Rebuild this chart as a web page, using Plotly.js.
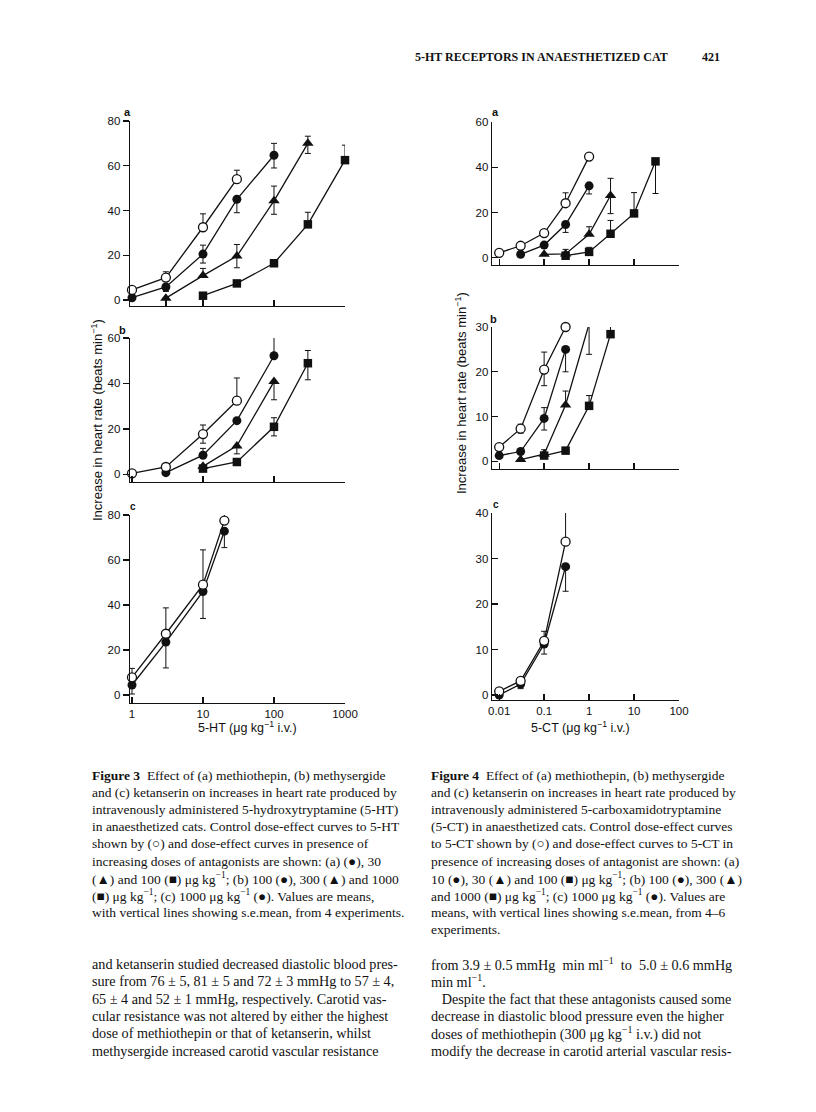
<!DOCTYPE html>
<html>
<head>
<meta charset="utf-8">
<script src="https://cdn.plot.ly/plotly-3.0.1.min.js"></script>
<style>
  body { margin: 0; background: #fff; }
  #page { width: 816px; height: 1112px; }
</style>
</head>
<body>
<div id="page"></div>
<script>
// Figure 3 (5-HT, ug/kg). a: methiothepin
var f3aOpenX = [1, 3, 10, 30];
var f3aOpenY = [4.5, 10, 32.5, 54];
var f3aOpenUp = [0, 2.6, 6, 4];
var f3aOpenDn = [0, 0, 0, 0];
var f3aDotX = [1, 3, 10, 30, 100];
var f3aDotY = [1, 5.8, 20.5, 45, 64.7];
var f3aDotUp = [0, 0, 4, 0, 5.3];
var f3aDotDn = [0, 2, 4, 6, 5.7];
var f3aTriX = [3, 10, 30, 100, 300];
var f3aTriY = [0.8, 10.9, 19.6, 44.3, 70];
var f3aTriUp = [0, 3.2, 5.2, 6.6, 3.2];
var f3aTriDn = [0, 0, 5.2, 6, 4.5];
var f3aSqX = [10, 30, 100, 300, 1000];
var f3aSqY = [1.9, 7.4, 16.4, 33.8, 62.5];
var f3aSqUp = [0, 0, 0, 5.4, 6.7];
var f3aSqDn = [0, 0, 0, 0, 0];

// b: methysergide
var f3bOpenX = [1, 3, 10, 30];
var f3bOpenY = [0.4, 3.2, 17.7, 32.4];
var f3bOpenUp = [0, 0, 4, 10];
var f3bOpenDn = [0, 0, 4, 0];
var f3bDotX = [3, 10, 30, 100];
var f3bDotY = [0.7, 8.4, 23.6, 52.2];
var f3bDotUp = [0, 3, 0, 10];
var f3bDotDn = [0, 0, 0, 0];
var f3bTriX = [10, 30, 100];
var f3bTriY = [3.5, 12.5, 40.8];
var f3bTriUp = [0, 0, 0];
var f3bTriDn = [0, 3.5, 8];
var f3bSqX = [10, 30, 100, 300];
var f3bSqY = [2.5, 5.4, 20.9, 48.9];
var f3bSqUp = [0, 0, 4, 5.6];
var f3bSqDn = [0, 0, 4, 7.3];

// c: ketanserin
var f3cOpenX = [1, 3, 10, 20];
var f3cOpenY = [7.8, 27.2, 49, 77.5];
var f3cOpenUp = [4, 11.5, 15.5, 7];
var f3cOpenDn = [0, 0, 0, 0];
var f3cDotX = [1, 3, 10, 20];
var f3cDotY = [4.4, 23.5, 46, 72.8];
var f3cDotUp = [0, 0, 0, 0];
var f3cDotDn = [4, 11.5, 12, 7.3];

// Figure 4 (5-CT, ug/kg). a: methiothepin
var f4aOpenX = [0.01, 0.03, 0.1, 0.3, 1];
var f4aOpenY = [2.2, 5.3, 10.9, 24.1, 44.7];
var f4aOpenUp = [1.5, 0, 1.6, 4.6, 1];
var f4aOpenDn = [1.5, 0, 0, 0, 1];
var f4aDotX = [0.03, 0.1, 0.3, 1];
var f4aDotY = [1.5, 5.6, 14.7, 31.8];
var f4aDotUp = [0, 0, 0, 0];
var f4aDotDn = [0, 0, 3.5, 3.6];
var f4aTriX = [0.1, 0.3, 1, 3];
var f4aTriY = [1.5, 1.7, 10.4, 27.5];
var f4aTriUp = [0, 2, 3.3, 7.6];
var f4aTriDn = [0, 0, 0, 8];
var f4aSqX = [0.3, 1, 3, 10, 30];
var f4aSqY = [0.9, 2.6, 10.6, 19.6, 42.6];
var f4aSqUp = [0, 2, 5.9, 9.2, 0];
var f4aSqDn = [0, 0, 0, 0, 14.2];

// b: methysergide
var f4bOpenX = [0.01, 0.03, 0.1, 0.3];
var f4bOpenY = [3.2, 7.3, 20.5, 30];
var f4bOpenUp = [0, 1, 3.9, 4.3];
var f4bOpenDn = [0, 1, 3.6, 0];
var f4bDotX = [0.01, 0.03, 0.1, 0.3];
var f4bDotY = [1.3, 2.2, 9.6, 25];
var f4bDotUp = [0, 0, 2.4, 0];
var f4bDotDn = [0, 0, 2.6, 5];
var f4bTriX = [0.03, 0.1, 0.3, 1];
var f4bTriY = [0.4, 1.6, 12.6, 30.7];
var f4bTriUp = [0, 1, 3.1, 0];
var f4bTriDn = [0, 0, 0, 6.8];
var f4bSqX = [0.1, 0.3, 1, 3];
var f4bSqY = [1.3, 2.4, 12.4, 28.4];
var f4bSqUp = [0, 0, 2.3, 4.6];
var f4bSqDn = [0, 0, 0, 0];

// c: ketanserin
var f4cOpenX = [0.01, 0.03, 0.1, 0.3];
var f4cOpenY = [0.8, 3.1, 11.9, 33.7];
var f4cOpenUp = [0, 0, 2.1, 8];
var f4cOpenDn = [0, 0, 0, 0];
var f4cDotX = [0.01, 0.03, 0.1, 0.3];
var f4cDotY = [0, 2.4, 11.2, 28.2];
var f4cDotUp = [0, 1, 0, 0];
var f4cDotDn = [0, 1, 2.2, 5.4];

// tick labels
var f3Ticks = [1, 10, 100, 1000];
var f3TickText = ['1', '10', '100', '1000'];
var f4Ticks = [0.01, 0.1, 1, 10, 100];
var f4TickText = ['0.01', '0.1', '1', '10', '100'];

// page text
var header = '5-HT RECEPTORS IN ANAESTHETIZED CAT';
var pageNo = '421';
var cap3 = [
  '<b>Figure 3</b>  Effect of (a) methiothepin, (b) methysergide',
  'and (c) ketanserin on increases in heart rate produced by',
  'intravenously administered 5-hydroxytryptamine (5-HT)',
  'in anaesthetized cats. Control dose-effect curves to 5-HT',
  'shown by (○) and dose-effect curves in presence of',
  'increasing doses of antagonists are shown: (a) (●), 30',
  '(▲) and 100 (■) μg kg<sup>−1</sup>; (b) 100 (●), 300 (▲) and 1000',
  '(■) μg kg<sup>−1</sup>; (c) 1000 μg kg<sup>−1</sup> (●). Values are means,',
  'with vertical lines showing s.e.mean, from 4 experiments.'
];
var cap4 = [
  '<b>Figure 4</b>  Effect of (a) methiothepin, (b) methysergide',
  'and (c) ketanserin on increases in heart rate produced by',
  'intravenously administered 5-carboxamidotryptamine',
  '(5-CT) in anaesthetized cats. Control dose-effect curves',
  'to 5-CT shown by (○) and dose-effect curves to 5-CT in',
  'presence of increasing doses of antagonist are shown: (a)',
  '10 (●), 30 (▲) and 100 (■) μg kg<sup>−1</sup>; (b) 100 (●), 300 (▲)',
  'and 1000 (■) μg kg<sup>−1</sup>; (c) 1000 μg kg<sup>−1</sup> (●). Values are',
  'means, with vertical lines showing s.e.mean, from 4–6',
  'experiments.'
];
var bodyLeft = [
  'and ketanserin studied decreased diastolic blood pres-',
  'sure from 76 ± 5, 81 ± 5 and 72 ± 3 mmHg to 57 ± 4,',
  '65 ± 4 and 52 ± 1 mmHg, respectively. Carotid vas-',
  'cular resistance was not altered by either the highest',
  'dose of methiothepin or that of ketanserin, whilst',
  'methysergide increased carotid vascular resistance'
];
var bodyRight = [
  'from 3.9 ± 0.5 mmHg  min ml<sup>−1</sup>  to  5.0 ± 0.6 mmHg',
  'min ml<sup>−1</sup>.',
  '   Despite the fact that these antagonists caused some',
  'decrease in diastolic blood pressure even the higher',
  'doses of methiothepin (300 μg kg<sup>−1</sup> i.v.) did not',
  'modify the decrease in carotid arterial vascular resis-'
];

var W = 816, H = 1112;
var INK = '#111';
function px(x) { return x / W; }
function py(y) { return 1 - y / H; }

var markers = {
  open: {symbol: 'circle', size: 9, color: '#fff', line: {color: INK, width: 1.3}},
  dot: {symbol: 'circle', size: 9, color: INK, line: {color: INK, width: 0}},
  tri: {symbol: 'triangle-up', size: 10, color: INK, line: {color: INK, width: 0}},
  sq: {symbol: 'square', size: 8.5, color: INK, line: {color: INK, width: 0}}
};

function series(ax, kind, x, y, up, dn) {
  return {
    x: x, y: y, xaxis: 'x' + ax, yaxis: 'y' + ax,
    type: 'scatter', mode: 'lines+markers', cliponaxis: false,
    line: {color: INK, width: 1.3},
    marker: markers[kind],
    error_y: {type: 'data', symmetric: false, array: up, arrayminus: dn,
              color: INK, thickness: 1, width: 3},
    showlegend: false, hoverinfo: 'skip'
  };
}

var data = [
  series('', 'sq', f3aSqX, f3aSqY, f3aSqUp, f3aSqDn),
  series('', 'tri', f3aTriX, f3aTriY, f3aTriUp, f3aTriDn),
  series('', 'dot', f3aDotX, f3aDotY, f3aDotUp, f3aDotDn),
  series('', 'open', f3aOpenX, f3aOpenY, f3aOpenUp, f3aOpenDn),
  series('2', 'sq', f3bSqX, f3bSqY, f3bSqUp, f3bSqDn),
  series('2', 'tri', f3bTriX, f3bTriY, f3bTriUp, f3bTriDn),
  series('2', 'dot', f3bDotX, f3bDotY, f3bDotUp, f3bDotDn),
  series('2', 'open', f3bOpenX, f3bOpenY, f3bOpenUp, f3bOpenDn),
  series('3', 'dot', f3cDotX, f3cDotY, f3cDotUp, f3cDotDn),
  series('3', 'open', f3cOpenX, f3cOpenY, f3cOpenUp, f3cOpenDn),
  series('4', 'sq', f4aSqX, f4aSqY, f4aSqUp, f4aSqDn),
  series('4', 'tri', f4aTriX, f4aTriY, f4aTriUp, f4aTriDn),
  series('4', 'dot', f4aDotX, f4aDotY, f4aDotUp, f4aDotDn),
  series('4', 'open', f4aOpenX, f4aOpenY, f4aOpenUp, f4aOpenDn),
  series('5', 'sq', f4bSqX, f4bSqY, f4bSqUp, f4bSqDn),
  series('5', 'tri', f4bTriX, f4bTriY, f4bTriUp, f4bTriDn),
  series('5', 'dot', f4bDotX, f4bDotY, f4bDotUp, f4bDotDn),
  series('5', 'open', f4bOpenX, f4bOpenY, f4bOpenUp, f4bOpenDn),
  series('6', 'dot', f4cDotX, f4cDotY, f4cDotUp, f4cDotDn),
  series('6', 'open', f4cOpenX, f4cOpenY, f4cOpenUp, f4cOpenDn)
];

function xAxis(x0, x1, range, vals, text, showLabels, anchor) {
  return {
    type: 'log', domain: [px(x0), px(x1)], range: range, anchor: anchor,
    showline: true, linecolor: INK, linewidth: 1.3, mirror: false,
    showgrid: false, zeroline: false,
    ticks: 'inside', ticklen: 6, tickwidth: 1.3, tickcolor: INK,
    tickmode: 'array', tickvals: vals, ticktext: text,
    showticklabels: showLabels, tickfont: {size: 11.5, color: INK}
  };
}
function yAxis(top, bottom, range, dtick, ticks, anchor) {
  return {
    domain: [py(bottom), py(top)], range: range, anchor: anchor,
    showline: true, linecolor: INK, linewidth: 1.3,
    showgrid: false, zeroline: false,
    ticks: ticks, ticklen: 6, tickwidth: 1.3, tickcolor: INK,
    tick0: 0, dtick: dtick, tickfont: {size: 11.5, color: INK}
  };
}

var layout = {
  width: W, height: H,
  margin: {l: 0, r: 0, t: 0, b: 0},
  paper_bgcolor: '#fff', plot_bgcolor: 'rgba(0,0,0,0)',
  font: {family: 'Liberation Sans, Arial, sans-serif', color: INK},
  showlegend: false,
  xaxis: xAxis(130, 345, [-0.028, 3], [3, 10, 100, 1000], ['3', '10', '100', '1000'], false, 'y'),
  yaxis: yAxis(121, 306, [-2.7, 80], 20, 'outside', 'x'),
  xaxis2: xAxis(130, 345, [-0.028, 3], f3Ticks, f3TickText, false, 'y2'),
  yaxis2: yAxis(338, 482, [-3.4, 60], 20, 'outside', 'x2'),
  xaxis3: xAxis(130, 345, [-0.028, 3], f3Ticks, f3TickText, true, 'y3'),
  yaxis3: yAxis(515, 703, [-3.6, 80], 20, 'outside', 'x3'),
  xaxis4: xAxis(492, 679, [-2.16, 2], f4Ticks, f4TickText, false, 'y4'),
  yaxis4: yAxis(122, 265, [-3.2, 60], 20, 'inside', 'x4'),
  xaxis5: xAxis(492, 679, [-2.16, 2], f4Ticks, f4TickText, false, 'y5'),
  yaxis5: yAxis(327, 469, [-1.7, 30], 10, 'inside', 'x5'),
  xaxis6: xAxis(492, 679, [-2.16, 2], f4Ticks, f4TickText, true, 'y6'),
  yaxis6: yAxis(513, 700, [-1.1, 40], 10, 'inside', 'x6'),
  annotations: []
};

function note(text, x, y, opts) {
  var a = {
    text: text, xref: 'paper', yref: 'paper', x: px(x), y: py(y),
    xanchor: 'left', yanchor: 'middle', showarrow: false,
    font: {family: 'Liberation Serif, Times New Roman, serif', size: 13, color: INK}
  };
  for (var k in opts) a[k] = opts[k];
  return a;
}
var sans = 'Liberation Sans, Arial, sans-serif';
var serif = 'Liberation Serif, Times New Roman, serif';
var ann = layout.annotations;

ann.push(note('<b>' + header + '</b>', 413, 57, {font: {family: serif, size: 12, color: INK}}));
ann.push(note('<b>' + pageNo + '</b>', 700, 57, {font: {family: serif, size: 12, color: INK}}));

// panel letters
ann.push(note('<b>a</b>', 122, 112, {font: {family: sans, size: 11, color: INK}}));
ann.push(note('<b>b</b>', 117, 330, {font: {family: sans, size: 11, color: INK}}));
ann.push(note('<b>c</b>', 128, 507, {font: {family: sans, size: 10, color: INK}}));
ann.push(note('<b>a</b>', 490, 112, {font: {family: sans, size: 11, color: INK}}));
ann.push(note('<b>b</b>', 488, 319, {font: {family: sans, size: 11, color: INK}}));
ann.push(note('<b>c</b>', 491, 505, {font: {family: sans, size: 10, color: INK}}));

// axis titles
var yTitle = 'Increase in heart rate (beats min<sup>−1</sup>)';
ann.push(note(yTitle, 97, 420, {xanchor: 'center', textangle: -90, font: {family: sans, size: 13, color: INK}}));
ann.push(note(yTitle, 461, 393, {xanchor: 'center', textangle: -90, font: {family: sans, size: 13, color: INK}}));
ann.push(note('5-HT (μg kg<sup>−1</sup> i.v.)', 248, 727, {xanchor: 'center', font: {family: sans, size: 12.5, color: INK}}));
ann.push(note('5-CT (μg kg<sup>−1</sup> i.v.)', 580, 727, {xanchor: 'center', font: {family: sans, size: 12.5, color: INK}}));

// captions and body text
cap3.forEach(function (t, i) { ann.push(note(t, 90, 775 + i * 17.2, {font: {family: serif, size: 13.5, color: INK}})); });
cap4.forEach(function (t, i) { ann.push(note(t, 429, 775 + i * 17.2, {font: {family: serif, size: 13.5, color: INK}})); });
bodyLeft.forEach(function (t, i) { ann.push(note(t, 90, 964 + i * 17.3, {font: {family: serif, size: 14.2, color: INK}})); });
bodyRight.forEach(function (t, i) { ann.push(note(t, 429, 964 + i * 17.3, {font: {family: serif, size: 14.2, color: INK}})); });

Plotly.newPlot('page', data, layout, {staticPlot: true, displayModeBar: false});
</script>
</body>
</html>
